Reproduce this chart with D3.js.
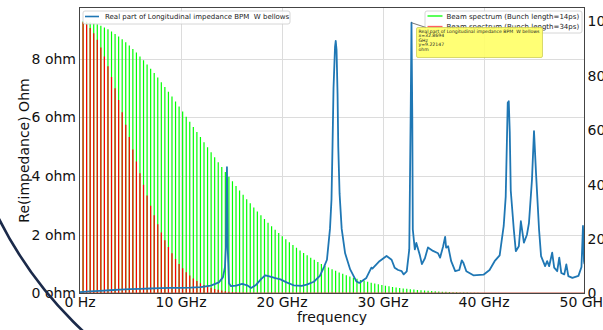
<!DOCTYPE html>
<html><head><meta charset="utf-8">
<script src="https://cdn.jsdelivr.net/npm/d3@7/dist/d3.min.js"></script>
<style>
body{margin:0;background:#fff;overflow:hidden}
svg{display:block}
text{font-family:"DejaVu Sans",sans-serif}
</style>
</head><body>
<svg id="chart" width="603" height="330"></svg>
<script>
// ---------- DATA ----------
const harmonicSpacingGHz = 0.3522; // bars are at harmonics 1,2,3,... of this frequency
const beam14ps = [99.95,99.81,99.57,99.23,98.81,98.29,97.68,96.98,96.19,95.31,
94.36,93.32,92.21,91.02,89.76,88.44,87.05,85.60,84.09,82.53,
80.93,79.27,77.58,75.85,74.08,72.29,70.48,68.64,66.79,64.93,
63.05,61.17,59.30,57.42,55.55,53.69,51.84,50.01,48.19,46.40,
44.63,42.89,41.17,39.49,37.84,36.22,34.64,33.10,31.59,30.13,
28.70,27.32,25.97,24.68,23.42,22.20,21.03,19.90,18.81,17.77,
16.77,15.81,14.89,14.01,13.17,12.36,11.60,10.87,10.18,9.52,
8.90,8.31,7.75,7.22,6.72,6.26,5.81,5.40,5.00,4.64,
4.29,3.97,3.67,3.38,3.12,2.87,2.65,2.43,2.23,2.05,
1.88,1.72,1.58,1.44,1.31,1.20,1.09,1.00,0.91,0.82,
0.75,0.68,0.62,0.56,0.50,0.46,0.41,0.37,0.33,0.30,
0.27,0.24,0.22,0.19,0.17,0.15,0.14,0.12,0.11,0.10,
0.09,0.08,0.07,0.06,0.05,0.05,0.04,0.04,0.03,0.03];
const beam34ps = [99.72,98.87,97.48,95.57,93.17,90.31,87.05,83.43,79.51,75.35,
71.00,66.52,61.98,57.42,52.89,48.45,44.13,39.97,36.00,32.23,
28.70,25.41,22.37,19.59,17.05,14.76,12.70,10.87,9.25,7.83,
6.59,5.51,4.58,3.79,3.12,2.55,2.07,1.68,1.35,1.08,
0.86,0.68,0.53,0.42,0.32,0.25,0.19,0.15,0.11,0.08];

const impFreqGHz = [0,1,2,3,4,5,6,7,8,9,10,11,12,13,13.8,14.2,14.4,14.5,14.6,14.68,14.8,15.0,
15.5,16.1,16.6,17.0,17.5,18.0,18.4,18.8,19.4,19.9,20.5,21.2,22.0,22.5,23.2,23.8,24.2,24.5,
24.8,24.95,25.05,25.15,25.3,25.37,25.45,25.55,25.62,25.75,25.96,26.3,26.8,27.4,27.7,
28.4,28.9,29.0,29.7,30.4,30.9,31.2,31.55,31.9,32.1,32.4,32.65,32.8,32.87,32.95,33.0,33.2,33.35,33.45,
33.7,33.9,34.2,34.5,35.0,35.5,35.7,36.0,36.2,36.3,36.5,36.8,37.2,37.6,37.85,38.0,38.3,
39.0,40.0,40.6,41.1,41.6,42.0,42.2,42.4,42.5,42.6,42.7,43.0,43.2,43.5,43.7,44.0,44.3,
44.5,44.8,45.0,45.2,45.5,45.7,46.1,46.3,46.5,46.8,47.0,47.3,47.5,47.7,48.0,48.2,48.4,
48.8,49.4,49.7,49.85,49.95,50.0];
const impOhm = [0.05,0.07,0.09,0.11,0.13,0.15,0.16,0.17,0.18,0.19,0.19,0.20,0.22,0.27,0.38,0.55,0.9,1.6,4.3,1.5,0.35,0.25,
0.27,0.33,0.28,0.19,0.30,0.50,0.62,0.58,0.52,0.48,0.38,0.28,0.26,0.30,0.40,0.60,0.90,1.15,
2.2,3.2,5.0,7.0,8.4,8.6,8.3,6.8,5.0,3.4,2.2,1.37,0.82,0.42,0.36,
0.53,0.88,0.85,1.10,1.28,1.15,0.88,0.80,0.76,0.65,0.75,1.5,6.5,9.22,6.0,2.18,1.5,1.72,1.6,
1.3,1.0,1.2,1.57,1.45,1.37,1.22,1.6,1.93,1.56,1.61,1.1,0.76,0.8,1.13,1.05,0.76,
0.62,0.64,0.8,1.1,1.3,2.3,3.3,6.5,6.55,5.5,3.5,2.18,1.44,1.61,2.46,1.73,2.0,
2.4,3.88,5.53,4.1,2.18,1.27,0.93,1.1,0.93,1.39,0.88,0.76,1.22,0.7,0.65,0.99,0.59,
0.53,0.6,0.9,2.3,1.1,1.0];

const xTickValues = [0,10,20,30,40,50];
const xTickLabels = ["0 Hz","10 GHz","20 GHz","30 GHz","40 GHz","50 GHz"];
const yTickValues = [0,2,4,6,8];
const yTickLabels = ["0 ohm","2 ohm","4 ohm","6 ohm","8 ohm"];
const y2TickValues = [0,20,40,60,80,100];
const y2TickLabels = ["0","20","40","60","80","100"];

const seriesNames = ["Real part of Longitudinal impedance BPM  W bellows",
  "Beam spectrum (Bunch length=14ps)","Beam spectrum (Bunch length=34ps)"];
const tooltipLines = ["Real part of Longitudinal impedance BPM  W bellows","x=32.8694","GHz","y=9.22147","ohm"];
const tooltipPoint = {f:32.8694, v:9.22147};

// ---------- LAYOUT ----------
const L = 79.5, R = 584.5, T = 7.5, B = 293.5;
const svg = d3.select("#chart");
const x = d3.scaleLinear().domain([0,50]).range([L,R]);
const y = d3.scaleLinear().domain([0,9.74]).range([B,T]);
const y2 = d3.scaleLinear().domain([0,105]).range([B,T]);

svg.append("defs").append("clipPath").attr("id","clip")
  .append("rect").attr("x",L).attr("y",T).attr("width",R-L).attr("height",B-T);

// grid
const grid = svg.append("g").attr("stroke","#dcdcdc").attr("stroke-width",1);
xTickValues.slice(1,-1).forEach(v=>grid.append("line").attr("x1",Math.round(x(v))+0.5).attr("x2",Math.round(x(v))+0.5).attr("y1",T).attr("y2",B));
yTickValues.slice(1).forEach(v=>grid.append("line").attr("x1",L).attr("x2",R).attr("y1",Math.round(y(v))+0.5).attr("y2",Math.round(y(v))+0.5));

const plot = svg.append("g").attr("clip-path","url(#clip)");
// green bars
plot.append("g").selectAll("line").data(beam14ps).join("line")
  .attr("x1",(d,i)=>x((i+1)*harmonicSpacingGHz)).attr("x2",(d,i)=>x((i+1)*harmonicSpacingGHz))
  .attr("y1",y2(0)).attr("y2",d=>y2(d))
  .attr("stroke","#00ff00").attr("stroke-width",1.2);
// red bars
plot.append("g").selectAll("line").data(beam34ps).join("line")
  .attr("x1",(d,i)=>x((i+1)*harmonicSpacingGHz)).attr("x2",(d,i)=>x((i+1)*harmonicSpacingGHz))
  .attr("y1",y2(0)).attr("y2",d=>y2(d))
  .attr("stroke","#ff0000").attr("stroke-width",1.2);
// baseline
plot.append("line").attr("x1",L).attr("x2",R).attr("y1",y2(0)-0.5).attr("y2",y2(0)-0.5)
  .attr("stroke","#c0503c").attr("stroke-width",1.2);

// impedance line
const lineGen = d3.line().x(d=>x(d[0])).y(d=>y(d[1])).curve(d3.curveLinear);
plot.append("path").datum(impFreqGHz.map((f,i)=>[f,impOhm[i]]))
  .attr("d",lineGen).attr("fill","none").attr("stroke","#1f77b4")
  .attr("stroke-width",1.8).attr("stroke-linejoin","round");

// spines
svg.append("rect").attr("x",L).attr("y",T).attr("width",R-L).attr("height",B-T)
  .attr("fill","none").attr("stroke","#444").attr("stroke-width",1);

// axes
const fs = 14;
const xAxis = svg.append("g").attr("transform",`translate(0,${B})`)
  .call(d3.axisBottom(x).tickValues(xTickValues).tickFormat((d,i)=>xTickLabels[i]).tickSize(0).tickPadding(4));
const yAxis = svg.append("g").attr("transform",`translate(${L},0)`)
  .call(d3.axisLeft(y).tickValues(yTickValues).tickFormat((d,i)=>yTickLabels[i]).tickSize(0).tickPadding(3.5));
const y2Axis = svg.append("g").attr("transform",`translate(${R},0)`)
  .call(d3.axisRight(y2).tickValues(y2TickValues).tickFormat((d,i)=>y2TickLabels[i]).tickSize(0).tickPadding(3));
[xAxis,yAxis,y2Axis].forEach(g=>{
  g.select(".domain").remove();
  g.selectAll("text").attr("font-family","DejaVu Sans").attr("font-size",fs).attr("fill","#111");
});

// axis titles
svg.append("text").attr("x",(L+R)/2).attr("y",322).attr("text-anchor","middle")
  .attr("font-size",14).attr("fill","#111").text("frequency");
svg.append("text").attr("transform",`translate(29,${(T+B)/2}) rotate(-90)`).attr("text-anchor","middle")
  .attr("font-size",14).attr("fill","#111").text("Re(impedance) Ohm");

// legends
const lfs = 7;
const leg1 = svg.append("g");
leg1.append("rect").attr("x",83).attr("y",11).attr("width",207).attr("height",13).attr("rx",2)
  .attr("fill","#fff").attr("fill-opacity",0.85).attr("stroke","#cccccc").attr("stroke-width",0.8);
leg1.append("line").attr("x1",85).attr("x2",99).attr("y1",16.5).attr("y2",16.5).attr("stroke","#1f77b4").attr("stroke-width",1.6);
leg1.append("text").attr("x",105).attr("y",19).attr("font-size",lfs).attr("fill","#222")
  .style("white-space","pre").text(seriesNames[0]);

const leg2 = svg.append("g");
leg2.append("rect").attr("x",425).attr("y",11).attr("width",157).attr("height",22).attr("rx",2)
  .attr("fill","#fff").attr("fill-opacity",0.85).attr("stroke","#cccccc").attr("stroke-width",0.8);
leg2.append("line").attr("x1",427.5).attr("x2",442.5).attr("y1",16).attr("y2",16).attr("stroke","#00ff00").attr("stroke-width",1.3);
leg2.append("line").attr("x1",427.5).attr("x2",442.5).attr("y1",26.5).attr("y2",26.5).attr("stroke","#ff6060").attr("stroke-width",1.3);
leg2.append("text").attr("x",446.5).attr("y",18.6).attr("font-size",lfs).attr("fill","#222").text(seriesNames[1]);
leg2.append("text").attr("x",446.5).attr("y",29).attr("font-size",lfs).attr("fill","#222").text(seriesNames[2]);

// tooltip annotation
const px = x(tooltipPoint.f), py = y(tooltipPoint.v);
svg.append("line").attr("x1",px).attr("y1",py).attr("x2",426).attr("y2",27.5).attr("stroke","#555").attr("stroke-width",0.8);
const tip = svg.append("g");
tip.append("rect").attr("x",416.5).attr("y",27.5).attr("width",126).attr("height",30).attr("rx",1.5)
  .attr("fill","#ffff66").attr("fill-opacity",0.9).attr("stroke","#c9c94a").attr("stroke-width",0.7);
tooltipLines.forEach((t,i)=>{
  tip.append("text").attr("x",418.5).attr("y",32.5+i*4.6).attr("font-size",4.6).attr("fill","#222")
    .style("white-space","pre").text(t);
});

// decorative arc (overlay from screenshot)
svg.append("circle").attr("cx",354).attr("cy",41).attr("r",397)
  .attr("fill","none").attr("stroke","#1b2a4a").attr("stroke-width",2.6);
</script>
</body></html>
